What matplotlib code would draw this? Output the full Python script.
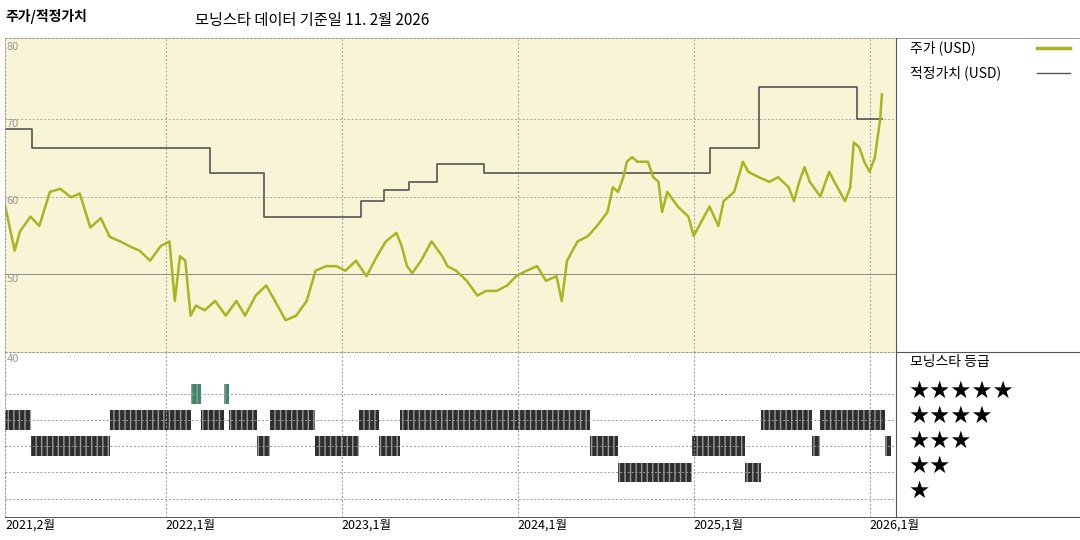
import numpy as np
import matplotlib.pyplot as plt

plt.rcParams['font.family'] = ['Noto Sans CJK KR', 'DejaVu Sans']

# price (year, USD)
price_t = [2021.08, 2021.14, 2021.17, 2021.23, 2021.28, 2021.34, 2021.40, 2021.46, 2021.51, 2021.57,
           2021.63, 2021.68, 2021.74, 2021.80, 2021.85, 2021.91, 2021.97, 2022.02, 2022.05, 2022.08,
           2022.11, 2022.14, 2022.17, 2022.22, 2022.28, 2022.34, 2022.40, 2022.45, 2022.51, 2022.57,
           2022.62, 2022.68, 2022.74, 2022.80, 2022.85, 2022.91, 2022.97, 2023.02, 2023.08, 2023.14,
           2023.20, 2023.25, 2023.31, 2023.34, 2023.37, 2023.40, 2023.45, 2023.51, 2023.57, 2023.60,
           2023.65, 2023.71, 2023.77, 2023.82, 2023.88, 2023.94, 2023.99, 2024.05, 2024.11, 2024.16,
           2024.22, 2024.25, 2024.28, 2024.34, 2024.40, 2024.45, 2024.51, 2024.54, 2024.57, 2024.60,
           2024.62, 2024.65, 2024.68, 2024.74, 2024.77, 2024.80, 2024.82, 2024.85, 2024.91, 2024.97,
           2025.00, 2025.03, 2025.09, 2025.14, 2025.17, 2025.23, 2025.28, 2025.31, 2025.37, 2025.43,
           2025.48, 2025.54, 2025.57, 2025.60, 2025.63, 2025.66, 2025.72, 2025.77, 2025.80, 2025.86,
           2025.89, 2025.91, 2025.94, 2025.97, 2026.00, 2026.03, 2026.06, 2026.07]
price_v = [59.4, 53.0, 55.5, 57.4, 56.2, 60.6, 61.0, 59.9, 60.4, 56.0, 57.2, 54.8, 54.2, 53.5, 53.0,
           51.7, 53.6, 54.2, 46.5, 52.3, 51.7, 44.6, 45.9, 45.3, 46.5, 44.6, 46.5, 44.6, 47.2, 48.5,
           46.5, 44.0, 44.6, 46.5, 50.4, 51.0, 51.0, 50.4, 51.7, 49.7, 52.3, 54.2, 55.3, 53.6, 51.0,
           50.1, 51.7, 54.2, 52.3, 51.0, 50.4, 49.1, 47.2, 47.8, 47.8, 48.5, 49.7, 50.4, 51.0, 49.1,
           49.7, 46.5, 51.7, 54.2, 54.9, 56.2, 58.0, 61.2, 60.6, 62.5, 64.5, 65.1, 64.5, 64.5, 62.5,
           61.9, 58.0, 60.6, 58.7, 57.4, 54.9, 56.2, 58.7, 56.2, 59.4, 60.6, 64.5, 63.2, 62.5, 61.9,
           62.5, 61.2, 59.4, 61.9, 63.8, 61.9, 60.0, 63.2, 61.9, 59.4, 61.2, 67.0, 66.4, 64.5, 63.2,
           65.1, 70.0, 73.2]

# fair value steps (start year, value)
fv_t = [2021.08, 2021.24, 2022.25, 2022.56, 2023.11, 2023.24, 2023.38, 2023.54, 2023.81, 2025.09, 2025.37, 2025.93, 2026.07]
fv_v = [68.7, 66.3, 63.0, 57.4, 59.4, 60.9, 61.9, 64.2, 63.0, 66.3, 74.2, 70.0, 70.0]

# star rating periods (start, end, stars)
ratings = [
    (2021.085, 2021.23, 4), (2021.23, 2021.68, 3), (2021.68, 2022.14, 4), (2022.14, 2022.20, 5),
    (2022.20, 2022.33, 4), (2022.33, 2022.36, 5), (2022.36, 2022.52, 4), (2022.52, 2022.59, 3),
    (2022.59, 2022.85, 4), (2022.85, 2023.10, 3), (2023.10, 2023.21, 4), (2023.21, 2023.33, 3),
    (2023.33, 2024.41, 4), (2024.41, 2024.57, 3), (2024.57, 2024.99, 2), (2024.99, 2025.29, 3),
    (2025.29, 2025.38, 2), (2025.38, 2025.67, 4), (2025.67, 2025.72, 3), (2025.72, 2026.09, 4),
    (2026.09, 2026.12, 3),
]

xticks = [2021.085, 2022.0, 2023.0, 2024.0, 2025.0, 2026.0]
xlabels = ['2021,2월', '2022,1월', '2023,1월', '2024,1월', '2025,1월', '2026,1월']

W, H = 1080, 540
fig = plt.figure(figsize=(10.8, 5.4), dpi=100)
xmin, xmax = 2021.085, 2026.15

def rect(x0, y0, x1, y1):
    return [x0 / W, 1 - y1 / H, (x1 - x0) / W, (y1 - y0) / H]

grid_kw = dict(color='#999999', ls=(0, (2, 2)), lw=0.7)

ax = fig.add_axes(rect(5, 38, 896, 352))
ax.set_facecolor('#f8f4d6')
ax.set_xlim(xmin, xmax)
ax.set_ylim(39.9, 80.5)
for v in [50, 60, 70]:
    ax.axhline(v, color='#888888' if v == 50 else '#aaaaaa', ls=(0, (2, 2)) if v != 50 else '-', lw=0.7)
for x in xticks[1:]:
    ax.axvline(x, **grid_kw)
ax.step(fv_t, fv_v, where='post', color='#555555', lw=1.2)
ax.plot(price_t, price_v, color='#a9b520', lw=1.8)
ax.set_xticks([]); ax.set_yticks([])
for v in [80, 70, 60, 50]:
    ax.text(xmin + 0.01, v - 0.6, str(v), color='#999999', fontsize=8, va='center')
for s in ax.spines.values():
    s.set_color('#999999'); s.set_linestyle((0, (2, 2))); s.set_linewidth(0.7)

ax2 = fig.add_axes(rect(5, 352, 896, 517))
ax2.set_xlim(xmin, xmax)
ax2.set_ylim(0.3, 6.6)
for r in [1, 2, 3, 4, 5]:
    ax2.axhline(r, **grid_kw)
for x in xticks[1:]:
    ax2.axvline(x, **grid_kw)
for t0, t1, s in ratings:
    c = '#3a8a68' if s == 5 else '#2e2e2e'
    ax2.broken_barh([(t0, t1 - t0)], (s - 0.38, 0.76),
                    facecolor=c, edgecolor='#999999', hatch='|||', lw=0)
ax2.set_yticks([])
ax2.set_xticks(xticks)
ax2.set_xticklabels(xlabels, fontsize=9, ha='left')
ax2.tick_params(length=0, pad=1)
ax2.text(xmin + 0.01, 6.35, '40', color='#999999', fontsize=8, va='center')
for k, s in ax2.spines.items():
    s.set_color('#999999'); s.set_linestyle((0, (2, 2))); s.set_linewidth(0.7)
ax2.spines['bottom'].set_color('#555555'); ax2.spines['bottom'].set_linestyle('-')

# right legend panel
fig.add_artist(plt.Line2D([896 / W, 1], [1 - 38 / H] * 2, color='#999999', lw=0.7))
fig.add_artist(plt.Line2D([896 / W, 1], [1 - 352 / H] * 2, color='#555555', lw=0.8))
fig.add_artist(plt.Line2D([896 / W, 1], [1 - 517 / H] * 2, color='#555555', lw=0.8))
fig.add_artist(plt.Line2D([896 / W] * 2, [1 - 517 / H, 1 - 38 / H], color='#555555', lw=0.8))

fig.text(910 / W, 1 - 48 / H, '주가 (USD)', fontsize=10, va='center')
fig.add_artist(plt.Line2D([1037 / W, 1070 / W], [1 - 48 / H] * 2, color='#a9b520', lw=2.5))
fig.text(910 / W, 1 - 73 / H, '적정가치 (USD)', fontsize=10, va='center')
fig.add_artist(plt.Line2D([1037 / W, 1070 / W], [1 - 73 / H] * 2, color='#555555', lw=1))
fig.text(910 / W, 1 - 362 / H, '모닝스타 등급', fontsize=10, va='center')
for i, n in enumerate([5, 4, 3, 2, 1]):
    fig.text(908 / W, 1 - (391 + 25 * i) / H, '★' * n, fontsize=17, va='center',
             family=['DejaVu Sans'])

fig.text(5 / W, 1 - 17 / H, '주가/적정가치', fontsize=10, weight='bold', va='center')
fig.text(195 / W, 1 - 20 / H, '모닝스타 데이터 기준일 11. 2월 2026', fontsize=11, va='center')

fig.savefig('out.png', dpi=100, facecolor='white')
